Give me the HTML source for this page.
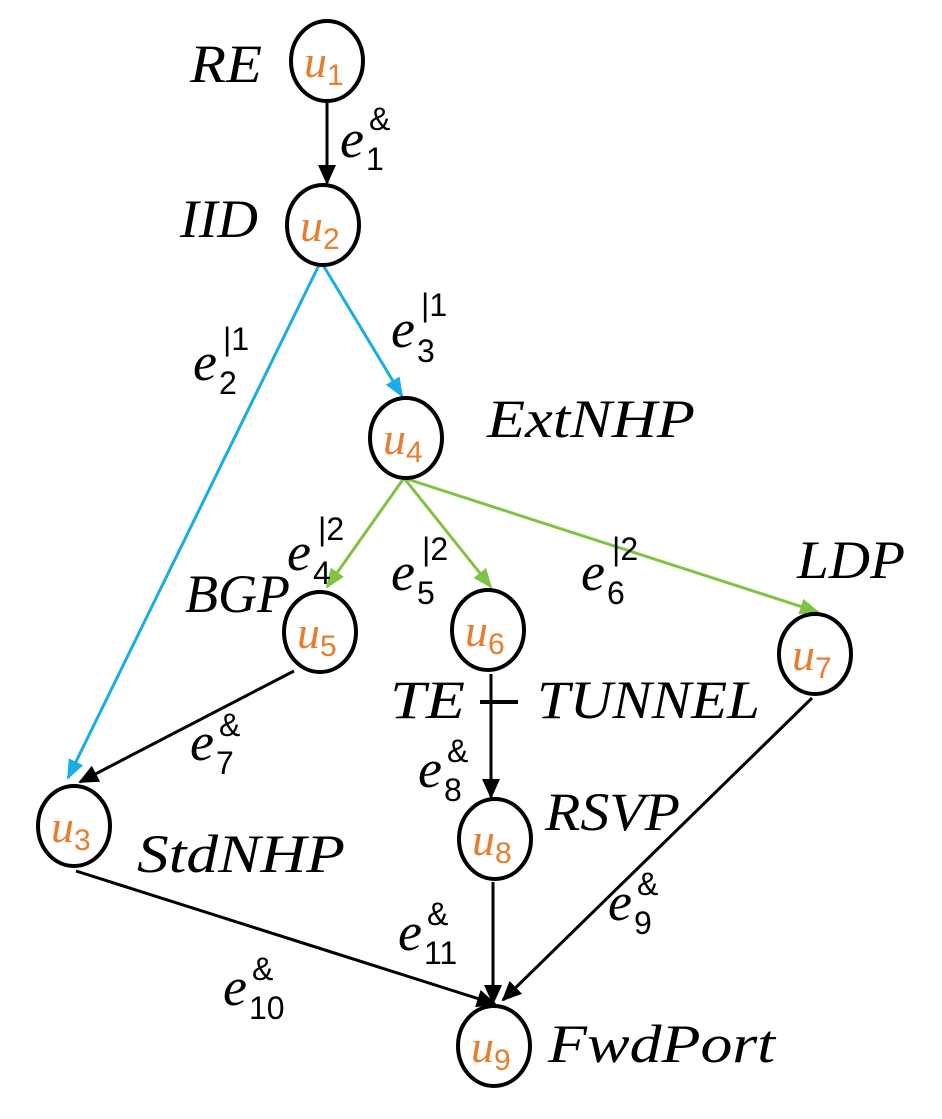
<!DOCTYPE html>
<html><head><meta charset="utf-8"><style>
html,body{margin:0;padding:0;background:#fff;}
svg{display:block;}
.l{font-family:"Liberation Serif",serif;font-style:italic;font-size:54px;fill:#000;}
.u{font-family:"Liberation Serif",serif;font-style:italic;font-size:46px;fill:#E87D2F;}
.us{font-family:"Liberation Sans",sans-serif;font-style:normal;font-size:30px;fill:#E87D2F;}
.e{font-family:"Liberation Serif",serif;font-style:italic;font-size:54px;fill:#000;}
.s{font-family:"Liberation Sans",sans-serif;font-style:normal;font-size:32px;fill:#000;}
</style></head><body>
<svg width="942" height="1119" viewBox="0 0 942 1119" xmlns="http://www.w3.org/2000/svg">
<defs>
<marker id="abk" markerWidth="20" markerHeight="18" refX="18" refY="9" orient="auto" markerUnits="userSpaceOnUse" viewBox="0 0 20 18"><path d="M0,0 L20,9 L0,18 z" fill="#000"/></marker>
<marker id="abl" markerWidth="20" markerHeight="16" refX="18" refY="8" orient="auto" markerUnits="userSpaceOnUse" viewBox="0 0 20 16"><path d="M0,0 L20,8 L0,16 z" fill="#1AADE4"/></marker>
<marker id="agr" markerWidth="20" markerHeight="16" refX="18" refY="8" orient="auto" markerUnits="userSpaceOnUse" viewBox="0 0 20 16"><path d="M0,0 L20,8 L0,16 z" fill="#80C342"/></marker>
</defs>
<g stroke-width="3">
<line x1="327" y1="103" x2="327" y2="183" stroke="#000" marker-end="url(#abk)"/>
<line x1="319" y1="265" x2="68" y2="778" stroke="#1AADE4" marker-end="url(#abl)"/>
<line x1="323" y1="265" x2="402" y2="396" stroke="#1AADE4" marker-end="url(#abl)"/>
<line x1="404" y1="478" x2="327" y2="587" stroke="#80C342" marker-end="url(#agr)"/>
<line x1="404" y1="478" x2="491" y2="587" stroke="#80C342" marker-end="url(#agr)"/>
<line x1="404" y1="478" x2="818" y2="612" stroke="#80C342" marker-end="url(#agr)"/>
<line x1="294" y1="671" x2="80" y2="782" stroke="#000" marker-end="url(#abk)"/>
<line x1="491" y1="674" x2="491" y2="797" stroke="#000" marker-end="url(#abk)"/>
<line x1="480" y1="702" x2="518" y2="702" stroke="#000" stroke-width="4"/>
<line x1="493" y1="882" x2="493" y2="1003" stroke="#000" marker-end="url(#abk)"/>
<line x1="812" y1="698" x2="503" y2="1000" stroke="#000" marker-end="url(#abk)"/>
<line x1="76" y1="871" x2="495" y2="1004" stroke="#000" marker-end="url(#abk)"/>
</g>
<g fill="#fff" stroke="#000" stroke-width="4">
<ellipse cx="327" cy="61" rx="36" ry="40"/>
<ellipse cx="323" cy="225" rx="36" ry="40"/>
<ellipse cx="406" cy="438" rx="36" ry="40"/>
<ellipse cx="320" cy="632" rx="36" ry="40"/>
<ellipse cx="488" cy="630" rx="36" ry="40"/>
<ellipse cx="815" cy="654" rx="36" ry="40"/>
<ellipse cx="74" cy="826" rx="36" ry="40"/>
<ellipse cx="495" cy="839" rx="36" ry="40"/>
<ellipse cx="494" cy="1046" rx="36" ry="40"/>
</g>
<text class="u" x="304" y="77">u<tspan class="us" dy="8">1</tspan></text>
<text class="u" x="300" y="241">u<tspan class="us" dy="8">2</tspan></text>
<text class="u" x="383" y="454">u<tspan class="us" dy="8">4</tspan></text>
<text class="u" x="297" y="648">u<tspan class="us" dy="8">5</tspan></text>
<text class="u" x="465" y="646">u<tspan class="us" dy="8">6</tspan></text>
<text class="u" x="792" y="670">u<tspan class="us" dy="8">7</tspan></text>
<text class="u" x="51" y="842">u<tspan class="us" dy="8">3</tspan></text>
<text class="u" x="472" y="855">u<tspan class="us" dy="8">8</tspan></text>
<text class="u" x="471" y="1062">u<tspan class="us" dy="8">9</tspan></text>

<text class="l" x="190" y="82" textLength="72" lengthAdjust="spacingAndGlyphs">RE</text>
<text class="l" x="180" y="237" textLength="78" lengthAdjust="spacingAndGlyphs">IID</text>
<text class="l" x="487" y="437" textLength="208" lengthAdjust="spacingAndGlyphs">ExtNHP</text>
<text class="l" x="797" y="578" textLength="108" lengthAdjust="spacingAndGlyphs">LDP</text>
<text class="l" x="185" y="612" textLength="105" lengthAdjust="spacingAndGlyphs">BGP</text>
<text class="l" x="390" y="718" textLength="75" lengthAdjust="spacingAndGlyphs">TE</text>
<text class="l" x="537" y="718" textLength="223" lengthAdjust="spacingAndGlyphs">TUNNEL</text>
<text class="l" x="545" y="830" textLength="135" lengthAdjust="spacingAndGlyphs">RSVP</text>
<text class="l" x="137" y="872" textLength="208" lengthAdjust="spacingAndGlyphs">StdNHP</text>
<text class="l" x="548" y="1062" textLength="227" lengthAdjust="spacingAndGlyphs">FwdPort</text>

<text class="e" x="340" y="157">e</text><text class="s" x="369" y="130">&amp;</text><text class="s" x="366" y="170">1</text>
<text class="e" x="391" y="347">e</text><text class="s" x="421" y="316">|1</text><text class="s" x="417" y="362">3</text>
<text class="e" x="193" y="380">e</text><text class="s" x="223" y="350">|1</text><text class="s" x="219" y="394">2</text>
<text class="e" x="287" y="570">e</text><text class="s" x="318" y="540">|2</text><text class="s" x="313" y="584">4</text>
<text class="e" x="391" y="590">e</text><text class="s" x="422" y="560">|2</text><text class="s" x="417" y="604">5</text>
<text class="e" x="581" y="590">e</text><text class="s" x="612" y="560">|2</text><text class="s" x="607" y="604">6</text>
<text class="e" x="190" y="760">e</text><text class="s" x="219" y="736">&amp;</text><text class="s" x="216" y="774">7</text>
<text class="e" x="418" y="787">e</text><text class="s" x="447" y="762">&amp;</text><text class="s" x="444" y="801">8</text>
<text class="e" x="608" y="920">e</text><text class="s" x="637" y="895">&amp;</text><text class="s" x="634" y="934">9</text>
<text class="e" x="398" y="950">e</text><text class="s" x="427" y="925">&amp;</text><text class="s" x="424" y="964">11</text>
<text class="e" x="223" y="1005">e</text><text class="s" x="252" y="980">&amp;</text><text class="s" x="249" y="1019">10</text>
</svg>
</body></html>
